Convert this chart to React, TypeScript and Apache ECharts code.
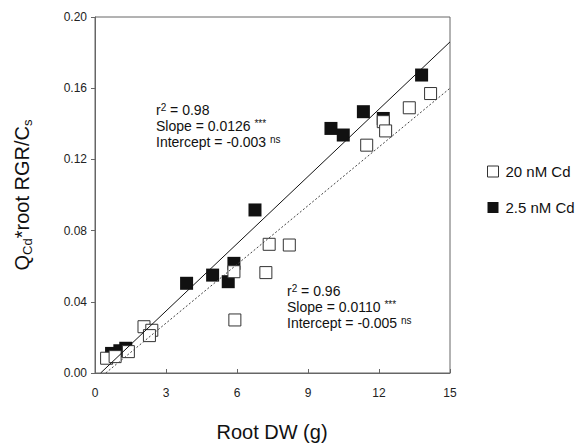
import React, { useEffect, useRef } from "react";
import * as echarts from "echarts";

const FONT = "'Liberation Sans', Arial, sans-serif";

// 20 nM Cd (open squares)
const open20X = [0.49, 0.85, 1.41, 2.07, 2.4, 2.3, 5.87, 5.91, 7.22, 7.36, 8.21, 11.48, 12.18, 12.28, 13.28, 14.18];
const open20Y = [0.0083, 0.0092, 0.012, 0.026, 0.024, 0.021, 0.0569, 0.0298, 0.0564, 0.0723, 0.0719, 0.128, 0.1412, 0.136, 0.149, 0.157];

// 2.5 nM Cd (filled squares)
const fill25X = [0.7, 1.05, 1.3, 3.87, 4.97, 5.63, 5.87, 6.76, 9.97, 10.49, 11.34, 12.18, 13.8];
const fill25Y = [0.011, 0.0125, 0.0139, 0.0504, 0.055, 0.0513, 0.0616, 0.0916, 0.1374, 0.1337, 0.1468, 0.143, 0.1674];

// regression parameters
const slope25 = 0.0126;
const intercept25 = -0.003;
const slope20 = 0.011;
const intercept20 = -0.005;

const xTicks = [0, 3, 6, 9, 12, 15];
const yTicks = [0, 0.04, 0.08, 0.12, 0.16, 0.2];

const seriesNames = ["20 nM Cd", "2.5 nM Cd"];

function regLine(m: number, b: number, xMax: number) {
  return [
    [-b / m, 0],
    [xMax, m * xMax + b],
  ];
}

export default function App() {
  const ref = useRef<HTMLDivElement>(null);
  useEffect(() => {
    if (!ref.current) return;
    const chart = echarts.init(ref.current, null, { renderer: "svg" });
    const xMax = xTicks[xTicks.length - 1];
    const option: any = {
      animation: false,
      backgroundColor: "#fff",
      textStyle: { fontFamily: FONT },
      grid: {
        left: 95,
        right: 132,
        top: 17,
        bottom: 72,
        show: true,
        borderColor: "#666",
        borderWidth: 1,
      },
      legend: {
        orient: "vertical",
        left: 482,
        top: 159,
        itemWidth: 11,
        itemHeight: 11,
        itemGap: 21,
        icon: "rect",
        textStyle: { fontSize: 15, color: "#111", fontFamily: FONT, padding: [0, 0, 0, 2] },
        data: [
          { name: seriesNames[0], itemStyle: { color: "#fff", borderColor: "#333", borderWidth: 1 } },
          { name: seriesNames[1], itemStyle: { color: "#111", borderWidth: 0 } },
        ],
      },
      xAxis: {
        type: "value",
        min: xTicks[0],
        max: xMax,
        interval: 3,
        axisLine: { show: true, lineStyle: { color: "#666" } },
        axisTick: { show: true, inside: true, length: 4, lineStyle: { color: "#666" } },
        axisLabel: { fontSize: 12, color: "#222", margin: 14, fontFamily: FONT },
        splitLine: { show: false },
      },
      yAxis: {
        type: "value",
        min: yTicks[0],
        max: yTicks[yTicks.length - 1],
        interval: 0.04,
        axisLine: { show: true, lineStyle: { color: "#666" } },
        axisTick: { show: true, inside: false, length: 4, lineStyle: { color: "#666" } },
        axisLabel: {
          fontSize: 12,
          color: "#222",
          margin: 8,
          fontFamily: FONT,
          formatter: (v: number) => v.toFixed(2),
        },
        splitLine: { show: false },
      },
      series: [
        {
          name: seriesNames[1],
          type: "scatter",
          symbol: "rect",
          symbolSize: 13,
          itemStyle: { color: "#111", opacity: 1 },
          data: fill25X.map((x, i) => [x, fill25Y[i]]),
          z: 2,
        },
        {
          name: seriesNames[0],
          type: "scatter",
          symbol: "rect",
          symbolSize: 12,
          itemStyle: { color: "#fff", borderColor: "#333", borderWidth: 1, opacity: 1 },
          data: open20X.map((x, i) => [x, open20Y[i]]),
          z: 3,
        },
        {
          name: "fit25",
          type: "line",
          data: regLine(slope25, intercept25, xMax),
          symbol: "none",
          lineStyle: { color: "#111", width: 1, type: "solid" },
          z: 4,
          silent: true,
        },
        {
          name: "fit20",
          type: "line",
          data: regLine(slope20, intercept20, xMax),
          symbol: "none",
          lineStyle: { color: "#444", width: 1, type: [2, 2] },
          z: 4,
          silent: true,
        },
      ],
      graphic: [
        {
          type: "text",
          left: 156,
          top: 102,
          z: 10,
          style: {
            text: "{a|r}{sup|2}{a| = 0.98}\n{a|Slope = 0.0126 }{sup|***}\n{a|Intercept = -0.003 }{sup|ns}",
            fill: "#111",
            rich: {
              a: { fontSize: 14, lineHeight: 16, fontFamily: FONT, fill: "#111" },
              sup: { fontSize: 10, lineHeight: 16, verticalAlign: "top", fontFamily: FONT, fill: "#111" },
            },
          },
        },
        {
          type: "text",
          left: 287,
          top: 283,
          z: 10,
          style: {
            text: "{a|r}{sup|2}{a| = 0.96}\n{a|Slope = 0.0110 }{sup|***}\n{a|Intercept = -0.005 }{sup|ns}",
            fill: "#111",
            rich: {
              a: { fontSize: 14, lineHeight: 16, fontFamily: FONT, fill: "#111" },
              sup: { fontSize: 10, lineHeight: 16, verticalAlign: "top", fontFamily: FONT, fill: "#111" },
            },
          },
        },
        {
          type: "text",
          x: 272,
          y: 432,
          style: {
            text: "Root DW (g)",
            fontSize: 20,
            fontFamily: FONT,
            fill: "#111",
            textAlign: "center",
            textVerticalAlign: "middle",
          },
        },
        {
          type: "text",
          x: 22,
          y: 195,
          rotation: Math.PI / 2,
          style: {
            text: "{a|Q}{sub|Cd}{a|*root RGR/C}{sub|s}",
            fill: "#111",
            textAlign: "center",
            textVerticalAlign: "middle",
            rich: {
              a: { fontSize: 20, lineHeight: 24, fontFamily: FONT, fill: "#111" },
              sub: { fontSize: 13, lineHeight: 24, verticalAlign: "bottom", fontFamily: FONT, fill: "#111" },
            },
          },
        },
      ],
    };
    chart.setOption(option);
    return () => chart.dispose();
  }, []);
  return <div ref={ref} style={{ width: 582, height: 445, position: "absolute", left: 0, top: 0 }} />;
}
